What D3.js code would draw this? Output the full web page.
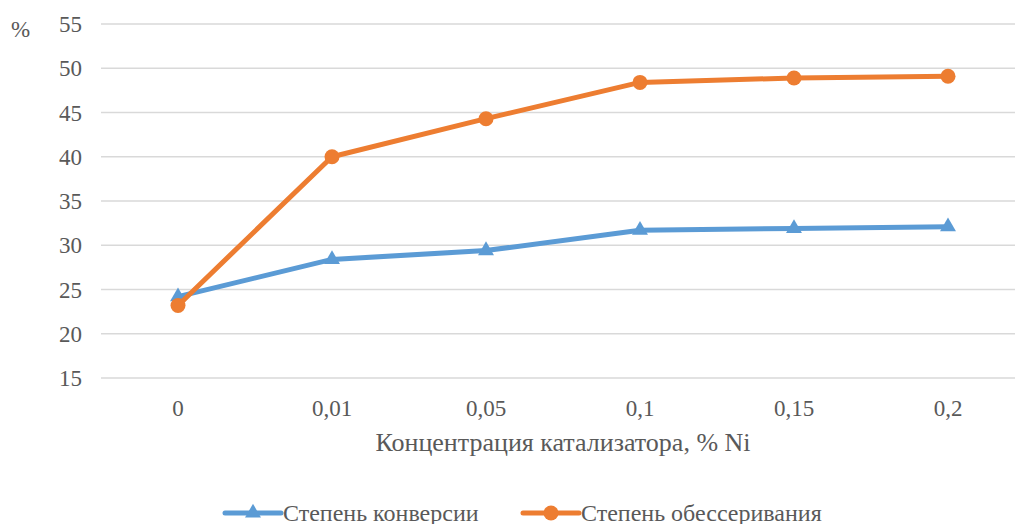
<!DOCTYPE html>
<html>
<head>
<meta charset="utf-8">
<script src="https://cdn.jsdelivr.net/npm/d3@7"></script>
<style>
  html, body { margin: 0; padding: 0; background: #fff; }
  #wrap { position: relative; width: 1015px; height: 524px; overflow: hidden; }
  #wrap svg { position: absolute; left: 0; top: 0; display: block; }
  .lbl {
    position: absolute; white-space: nowrap; line-height: 1;
    font-family: 'Liberation Serif', 'Times New Roman', serif; color: #595959;
  }
</style>
</head>
<body>
<div id="wrap">
  <svg id="chart" width="1015" height="524"></svg>
</div>
<script>
// Catalyst concentration categories and measured series
const categories = ["0", "0,01", "0,05", "0,1", "0,15", "0,2"];
const conversion = [24.2, 28.4, 29.4, 31.7, 31.9, 32.1];
const desulfurization = [23.2, 40.0, 44.3, 48.4, 48.9, 49.1];
const yTicks = [15, 20, 25, 30, 35, 40, 45, 50, 55];
const seriesNames = ["Степень конверсии", "Степень обессеривания"];
const xTitle = "Концентрация катализатора, % Ni";
const yTitle = "%";

const wrap = d3.select("#wrap");
const svg = d3.select("#chart");
const W = 1015;
const plotLeft = 101, plotRight = 1025, plotTop = 24, plotBottom = 378;

const x = d3.scalePoint().domain(categories).range([plotLeft, plotRight]).padding(0.5);
const y = d3.scaleLinear().domain([15, 55]).range([plotBottom, plotTop]);

// Text labels are laid out as HTML over the SVG
function label(text, px, py, size, anchorX, anchorY) {
  return wrap.append("div").attr("class", "lbl")
    .style("left", px + "px").style("top", py + "px")
    .style("font-size", size + "px")
    .style("transform", `translate(${anchorX}, ${anchorY})`)
    .text(text);
}

// Horizontal gridlines
svg.append("g").selectAll("line").data(yTicks).join("line")
  .attr("x1", plotLeft).attr("x2", W)
  .attr("y1", d => y(d)).attr("y2", d => y(d))
  .attr("stroke", "#d9d9d9").attr("stroke-width", 1.5);

// Y tick labels (right-aligned) and X tick labels (centered) from the scales
y.ticks && yTicks.forEach(t => label(String(t), 82, y(t), 23, "-100%", "-50%"));
categories.forEach(c => label(c, x(c), 408, 23, "-50%", "-50%"));

// Axis titles
label(yTitle, 11, 29, 23, "0", "-50%");
label(xTitle, 563, 443, 26, "-50%", "-50%");

const line = d3.line().x((d, i) => x(categories[i])).y(d => y(d));
const blue = "#5b9bd5", orange = "#ed7d31";
const tri = d3.symbol().type(d3.symbolTriangle).size(110);

// Conversion series (triangles)
svg.append("path").datum(conversion)
  .attr("d", line).attr("fill", "none")
  .attr("stroke", blue).attr("stroke-width", 5).attr("stroke-linejoin", "round");
svg.append("g").selectAll("path").data(conversion).join("path")
  .attr("d", tri)
  .attr("transform", (d, i) => `translate(${x(categories[i])},${y(d)})`)
  .attr("fill", blue);

// Desulfurization series (circles)
svg.append("path").datum(desulfurization)
  .attr("d", line).attr("fill", "none")
  .attr("stroke", orange).attr("stroke-width", 5).attr("stroke-linejoin", "round");
svg.append("g").selectAll("circle").data(desulfurization).join("circle")
  .attr("cx", (d, i) => x(categories[i])).attr("cy", d => y(d))
  .attr("r", 7.5).attr("fill", orange);

// Legend
const legendY = 513;
const legend = [
  { name: seriesNames[0], color: blue, x0: 225, marker: "tri" },
  { name: seriesNames[1], color: orange, x0: 523, marker: "circle" }
];
legend.forEach(l => {
  const g = svg.append("g");
  g.append("line").attr("x1", l.x0).attr("x2", l.x0 + 56)
    .attr("y1", legendY).attr("y2", legendY)
    .attr("stroke", l.color).attr("stroke-width", 5).attr("stroke-linecap", "round");
  if (l.marker === "tri") {
    g.append("path").attr("d", tri)
      .attr("transform", `translate(${l.x0 + 28},${legendY})`).attr("fill", l.color);
  } else {
    g.append("circle").attr("cx", l.x0 + 28).attr("cy", legendY)
      .attr("r", 7.5).attr("fill", l.color);
  }
  label(l.name, l.x0 + 58, legendY, 24, "0", "-50%");
});
</script>
</body>
</html>
